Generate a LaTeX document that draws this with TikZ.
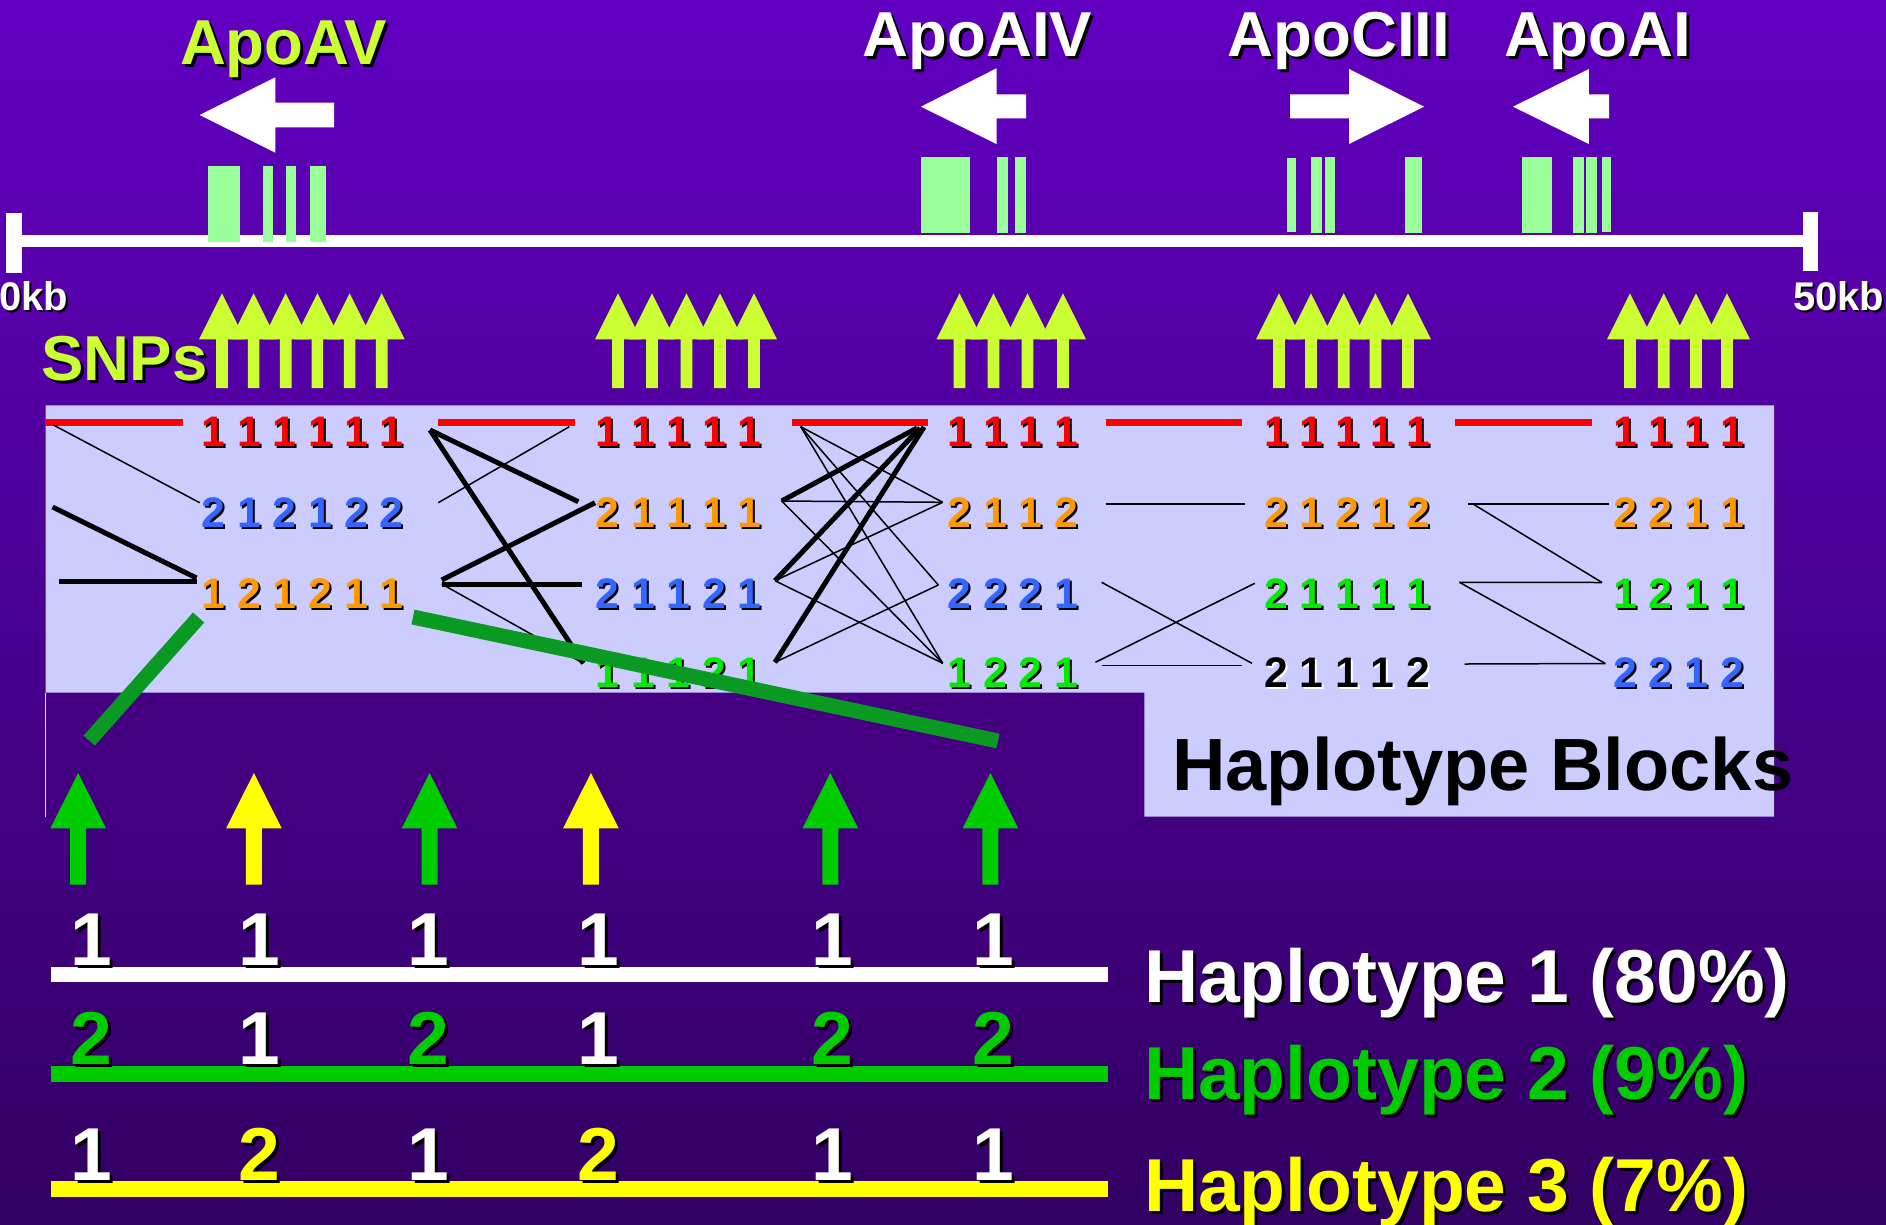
\documentclass[tikz,border=0pt]{standalone}
\usepackage{fontspec}
\setmainfont{Liberation Sans}

\definecolor{bgtop}{RGB}{98,0,194}
\definecolor{bgbot}{RGB}{50,0,98}
\definecolor{panel}{RGB}{204,204,255}
\definecolor{panelshade}{RGB}{68,0,128}
\definecolor{lime}{RGB}{204,255,51}
\definecolor{exon}{RGB}{153,255,153}
\definecolor{digred}{RGB}{255,0,0}
\definecolor{digblue}{RGB}{51,102,255}
\definecolor{digorange}{RGB}{255,153,0}
\definecolor{diggreen}{RGB}{0,235,0}
\definecolor{hapgreen}{RGB}{0,204,0}
\definecolor{hapyellow}{RGB}{255,255,0}
\definecolor{linkgreen}{RGB}{10,153,35}

% bold Liberation Sans at a size given in pt (1pt = 1 unit of the picture)
\newcommand\fsz[1]{\fontsize{#1}{#1}\selectfont\bfseries}
\newcommand\shoff{3}
% text with a drop shadow: name, x, y, anchor, size, colour, shadow colour, text
\newcommand\shtext[8]{%
  \node[txt, anchor=#4, font=\fsz{#5}, text=#7] (#1-sh) at ({#2+\shoff},{#3+\shoff}) {#8};
  \node[txt, anchor=#4, font=\fsz{#5}, text=#6] (#1) at (#2,#3) {#8};}
% one row of allele digits in a block: name, x, baseline, colour, text
\newcommand\digrow[5]{\shtext{#1}{#2}{#3}{base west}{42.7}{#4}{black}{#5}}

\begin{document}
\begin{tikzpicture}[x=1pt,y=-1pt,
  txt/.style={inner sep=0pt, outer sep=0pt},
  thinlink/.style={line width=1.5pt, black},
  thicklink/.style={line width=5pt, black},
  redbar/.style={line width=7pt, digred},
  greenlink/.style={line width=15pt, linkgreen},
  hapbar/.style={draw=none},
  exonbox/.style={fill=exon},
  genearrow/.style={fill=white}]

\useasboundingbox (0,0) rectangle (1886,1224);
\clip (0,0) rectangle (1886,1224);

% background
\shade[top color=bgtop, bottom color=bgbot] (0,0) rectangle (1886,1224);

% panel holding the haplotype blocks, with its darker lower strip
\fill[panelshade] (45.7,692.7) rectangle (1144.3,816.7);
\draw[line width=1.2pt, panel!80!white] (45.4,692.7) -- (45.4,816.7);
\fill[panel] (45.7,405.3) -- (1774,405.3) -- (1774,816.7) -- (1144.3,816.7)
  -- (1144.3,692.7) -- (45.7,692.7) -- cycle;

% chromosome segment with end ticks
\fill[white] (14,235) rectangle (1810,246.7);
\fill[white] (5.7,212.5) rectangle (21.7,272.5);
\fill[white] (1803,212) rectangle (1818,271);

% exons
\foreach \a/\b in {207.6/240.2,262.5/272.8,285.7/296,310.3/326.3}
  \fill[exonbox] (\a,166) rectangle (\b,241.7);
\foreach \a/\b in {920.9/970,997.3/1007.9,1015.4/1026}
  \fill[exonbox] (\a,157.3) rectangle (\b,233.3);
\fill[exonbox] (1287,158.3) rectangle (1296,231.7);
\foreach \a/\b in {1311/1321.8,1324.8/1335.4,1405/1421.6}
  \fill[exonbox] (\a,157.3) rectangle (\b,233.3);
\foreach \a/\b in {1522/1551.7,1573/1583.5,1585.8/1597}
  \fill[exonbox] (\a,157.3) rectangle (\b,233.3);
\fill[exonbox] (1602.4,157.3) rectangle (1610.7,231.7);

% transcription direction arrows
\fill[genearrow] (199.6,115) -- (275.4,77.3) -- (275.4,102.7) -- (334,102.7)
  -- (334,127.3) -- (275.4,127.3) -- (275.4,152.7) -- cycle;
\fill[genearrow] (920.9,106.7) -- (996.5,68.3) -- (996.5,94.3) -- (1026,94.3)
  -- (1026,118.3) -- (996.5,118.3) -- (996.5,144) -- cycle;
\fill[genearrow] (1424,106.7) -- (1349,69) -- (1349,94.3) -- (1290,94.3)
  -- (1290,118.3) -- (1349,118.3) -- (1349,144) -- cycle;
\fill[genearrow] (1513,106.7) -- (1588.8,69) -- (1588.8,94.3) -- (1609,94.3)
  -- (1609,118.3) -- (1588.8,118.3) -- (1588.8,144) -- cycle;

% gene names and scale
\shtext{apoav}{283.5}{64}{base}{63.5}{lime}{black}{ApoAV}
\shtext{apoaiv}{977.5}{56.5}{base}{63.5}{white}{black}{ApoAIV}
\shtext{apociii}{1339}{56.5}{base}{63.5}{white}{black}{ApoCIII}
\shtext{apoai}{1597.5}{56.5}{base}{63.5}{white}{black}{ApoAI}
\renewcommand\shoff{2}
\shtext{kb0}{-0.5}{310}{base west}{40}{white}{black}{0kb}
\shtext{kb50}{1793}{310}{base west}{40}{white}{black}{50kb}
\renewcommand\shoff{3}

% SNP markers
\foreach \x in {222,253.6,285.7,317.4,349.6,381.7,
                618,652,686.5,720,754,
                959.5,993.5,1027.5,1063,
                1279,1311,1343.7,1375.5,1408,
                1630,1663.7,1696,1727}
  \fill[lime] (\x,293.3) -- ({\x+23},339.3) -- ({\x+5.8},339.3) -- ({\x+5.8},388)
    -- ({\x-5.8},388) -- ({\x-5.8},339.3) -- ({\x-23},339.3) -- cycle;
\shtext{snps}{41.6}{380}{base west}{63.5}{lime}{black}{SNPs}

% common haplotype bars of each block
\draw[redbar] (44.7,422.7) -- (182.7,422.7);
\draw[redbar] (438.3,422.7) -- (575,422.7);
\draw[redbar] (792,422.7) -- (928.3,422.7);
\draw[redbar] (1105.7,422.7) -- (1242,422.7);
\draw[redbar] (1455.3,422.7) -- (1591.6,422.7);

% link end points
\coordinate (b1a) at (53.4,425);    \coordinate (b1b) at (199.7,502.7);
\coordinate (b1c) at (52.6,507);    \coordinate (b1d) at (196.5,578);
\coordinate (b1e) at (59.3,581);    \coordinate (b1f) at (196.5,581);

\coordinate (b2L1) at (430,430);    \coordinate (b2L2) at (438.3,502.7);
\coordinate (b2L3a) at (441.7,580); \coordinate (b2L3b) at (441.7,584);
\coordinate (b2R1) at (569.3,426.7);\coordinate (b2R2a) at (578.3,501.7);
\coordinate (b2R2b) at (595,502.7); \coordinate (b2R3) at (581.7,584);
\coordinate (b2R4) at (583.3,663.3);

\coordinate (b3L1) at (800.7,426.7); \coordinate (b3L2) at (781.7,501);
\coordinate (b3L3) at (775,580.7);   \coordinate (b3L4) at (775,662.3);
\coordinate (b3R1a) at (917,428);    \coordinate (b3R1b) at (920,428);
\coordinate (b3R1c) at (924,427);    \coordinate (b3R2) at (942.7,502.3);
\coordinate (b3R3) at (938.3,585);   \coordinate (b3R4) at (942.7,663.3);

\coordinate (b4L2) at (1105.7,504);  \coordinate (b4R2) at (1244.5,504);
\coordinate (b4L3) at (1101.6,582.3);\coordinate (b4R4) at (1252,663.3);
\coordinate (b4L4) at (1095.4,662.3);\coordinate (b4R3) at (1254.8,583.3);
\coordinate (b4L4h) at (1101.6,665.7);\coordinate (b4R4h) at (1242,665.7);

\coordinate (b5L2) at (1468,504);    \coordinate (b5L2b) at (1473,504);
\coordinate (b5R2) at (1608.5,504);  \coordinate (b5L3) at (1459.4,582.3);
\coordinate (b5R3) at (1602,582.5);  \coordinate (b5L4) at (1464.6,664);
\coordinate (b5R4) at (1605.4,663.5);

% links between neighbouring blocks
\draw[thinlink] (b1a) -- (b1b);
\draw[thicklink] (b1c) -- (b1d);
\draw[thicklink] (b1e) -- (b1f);

\draw[thinlink] (b2L2) -- (b2R1);
\draw[thicklink] (b2L1) -- (b2R2a);
\draw[thicklink] (b2L1) -- (b2R4);
\draw[thicklink] (b2L3a) -- (b2R2b);
\draw[thicklink] (b2L3b) -- (b2R3);
\draw[thinlink] (b2L3b) -- (b2R4);

\draw[thinlink] (b3L1) -- (b3R2);
\draw[thinlink] (b3L1) -- (b3R3);
\draw[thinlink] (b3L1) -- (b3R4);
\draw[thinlink] (b3L2) -- (b3R2);
\draw[thinlink] (b3L2) -- (b3R4);
\draw[thinlink] (b3L3) -- (b3R2);
\draw[thinlink] (b3L3) -- (b3R4);
\draw[thinlink] (b3L4) -- (b3R3);
\draw[thicklink] (b3L2) -- (b3R1a);
\draw[thicklink] (b3L3) -- (b3R1b);
\draw[thicklink] (b3L4) -- (b3R1c);

\draw[thinlink] (b4L2) -- (b4R2);
\draw[thinlink] (b4L3) -- (b4R4);
\draw[thinlink] (b4L4) -- (b4R3);
\draw[thinlink] (b4L4h) -- (b4R4h);

\draw[thinlink] (b5L2) -- (b5R2);
\draw[thinlink] (b5L2b) -- (b5R3);
\draw[thinlink] (b5L3) -- (b5R3);
\draw[thinlink] (b5L3) -- (b5R4);
\draw[thinlink] (b5L4) -- (b5R4);

% allele rows
\renewcommand\shoff{2}
\digrow{b1r1}{201.6}{446.7}{digred}{1 1 1 1 1 1}
\digrow{b1r2}{201.6}{527}{digblue}{2 1 2 1 2 2}
\digrow{b1r3}{201.6}{608}{digorange}{1 2 1 2 1 1}

\digrow{b2r1}{595.5}{446.7}{digred}{1 1 1 1 1}
\digrow{b2r2}{595.5}{527}{digorange}{2 1 1 1 1}
\digrow{b2r3}{595.5}{608}{digblue}{2 1 1 2 1}
\digrow{b2r4}{595.5}{687}{diggreen}{1 1 1 2 1}

\digrow{b3r1}{947.5}{446.7}{digred}{1 1 1 1}
\digrow{b3r2}{947.5}{527}{digorange}{2 1 1 2}
\digrow{b3r3}{947.5}{608}{digblue}{2 2 2 1}
\digrow{b3r4}{947.5}{687}{diggreen}{1 2 2 1}

\digrow{b4r1}{1264}{446.7}{digred}{1 1 1 1 1}
\digrow{b4r2}{1264}{527}{digorange}{2 1 2 1 2}
\digrow{b4r3}{1264}{608}{diggreen}{2 1 1 1 1}
\shtext{b4r4}{1264}{687}{base west}{42.7}{black}{white}{2 1 1 1 2}

\digrow{b5r1}{1613.3}{446.7}{digred}{1 1 1 1}
\digrow{b5r2}{1613.3}{527}{digorange}{2 2 1 1}
\digrow{b5r3}{1613.3}{608}{diggreen}{1 2 1 1}
\digrow{b5r4}{1613.3}{687}{digblue}{2 2 1 2}
\renewcommand\shoff{3}

% tag-SNP pointers into the first two blocks
\coordinate (g1a) at (198.6,617.5); \coordinate (g1b) at (89.2,740.5);
\coordinate (g2a) at (413,617);     \coordinate (g2b) at (998,741);
\draw[greenlink] (g1a) -- (g1b);
\draw[greenlink] (g2a) -- (g2b);

\node[txt, anchor=base west, font=\fsz{74}, text=black] (blocks) at (1172.3,790) {Haplotype Blocks};

% tag SNPs
\foreach \x/\c in {78.2/hapgreen,253.9/hapyellow,429.6/hapgreen,590.9/hapyellow,830.3/hapgreen,990.4/hapgreen}
  \fill[\c] (\x,773) -- ({\x+27.8},828.3) -- ({\x+8},828.3) -- ({\x+8},884.5)
    -- ({\x-8},884.5) -- ({\x-8},828.3) -- ({\x-27.8},828.3) -- cycle;

% haplotype bars
\fill[white] (50.5,966.5) rectangle (1108,982);
\fill[hapgreen] (50.5,1066) rectangle (1108,1082);
\fill[hapyellow] (50.5,1181) rectangle (1108,1196.7);

% haplotype alleles at the tag SNPs
\foreach \x/\a/\b/\c/\d/\e/\f [count=\i] in
   {91/1/white/2/hapgreen/1/white,
    259/1/white/1/white/2/hapyellow,
    428/1/white/2/hapgreen/1/white,
    598.5/1/white/1/white/2/hapyellow,
    832/1/white/2/hapgreen/1/white,
    993.7/1/white/2/hapgreen/1/white}{
  \shtext{h1c\i}{\x}{965.5}{base}{75}{\b}{black}{\a}
  \shtext{h2c\i}{\x}{1064.5}{base}{75}{\d}{black}{\c}
  \shtext{h3c\i}{\x}{1180}{base}{75}{\f}{black}{\e}
}

\shtext{hap1}{1144}{1002.7}{base west}{75}{white}{black}{Haplotype 1 (80\%)}
\shtext{hap2}{1144}{1099.7}{base west}{75}{hapgreen}{black}{Haplotype 2 (9\%)}
\shtext{hap3}{1144}{1211.7}{base west}{75}{hapyellow}{black}{Haplotype 3 (7\%)}

\end{tikzpicture}
\end{document}
